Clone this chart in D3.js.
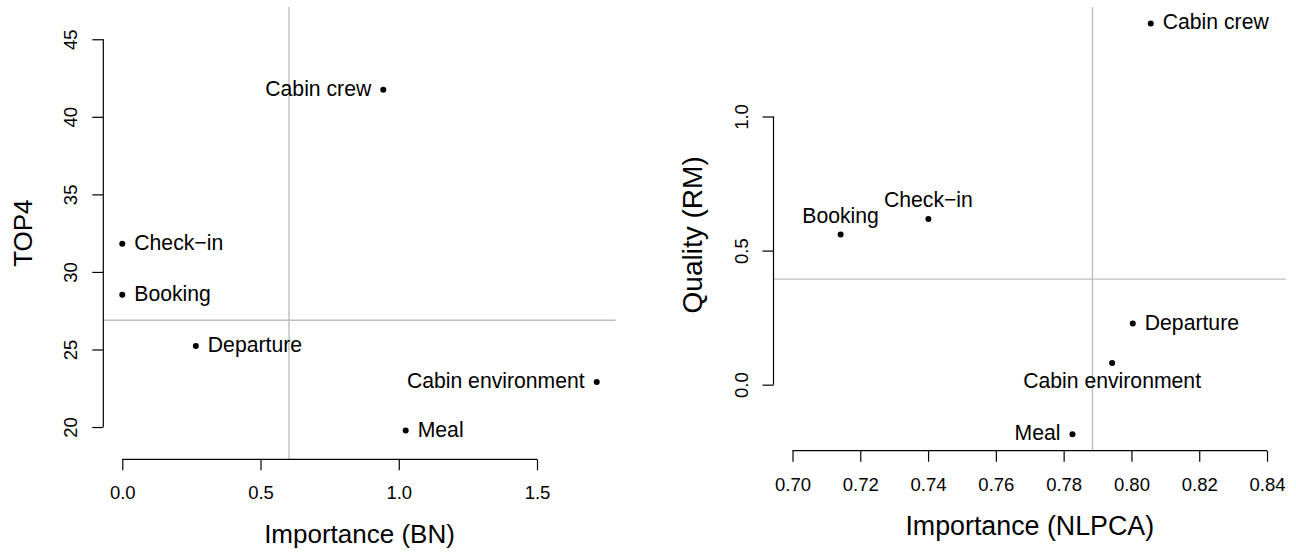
<!DOCTYPE html>
<html>
<head>
<meta charset="utf-8">
<script src="https://cdn.jsdelivr.net/npm/d3@7"></script>
<style>
  html, body { margin: 0; padding: 0; background: #fff; }
  svg { display: block; }
  text { font-family: "Liberation Sans", Arial, Helvetica, sans-serif; fill: #000; }
</style>
</head>
<body>
<svg id="chart" width="1296" height="552"></svg>
<script>
// ---------- DATA ----------
const categories = ["Cabin crew", "Check\u2212in", "Booking", "Departure", "Cabin environment", "Meal"];

// Left panel: Importance (BN) vs TOP4
const leftX = [0.944, 0.0, 0.0, 0.266, 1.716, 1.025];
const leftY = [41.75, 31.81, 28.53, 25.23, 22.9, 19.77];
const leftLabelPos = [2, 4, 4, 4, 2, 4];     // R text() pos: 1 below, 2 left, 3 above, 4 right
const leftRefX = 0.603;
const leftRefY = 26.88;
const leftYLim = [19, 46];
const leftXTicks = [0, 0.5, 1.0, 1.5];
const leftXTickLabels = ["0.0", "0.5", "1.0", "1.5"];
const leftYTicks = [20, 25, 30, 35, 40, 45];
const leftYTickLabels = ["20", "25", "30", "35", "40", "45"];

// Right panel: Importance (NLPCA) vs Quality (RM)
const rightX = [0.8057, 0.7401, 0.7142, 0.8004, 0.7943, 0.7826];
const rightY = [1.347, 0.618, 0.560, 0.228, 0.081, -0.185];
const rightLabelPos = [4, 3, 3, 4, 1, 2];
const rightRefX = 0.7885;
const rightRefY = 0.3935;
const rightXLim = [0.70, 0.84];
const rightXTicks = [0.70, 0.72, 0.74, 0.76, 0.78, 0.80, 0.82, 0.84];
const rightXTickLabels = ["0.70", "0.72", "0.74", "0.76", "0.78", "0.80", "0.82", "0.84"];
const rightYTicks = [0.0, 0.5, 1.0];
const rightYTickLabels = ["0.0", "0.5", "1.0"];

const titles = {
  leftX: "Importance (BN)", leftY: "TOP4",
  rightX: "Importance (NLPCA)", rightY: "Quality (RM)"
};

// ---------- LAYOUT ----------
const svg = d3.select("#chart");
svg.append("rect").attr("width", 1296).attr("height", 552).attr("fill", "#fff");

const TICK_FS = 18.5, LABEL_FS = 21.2;

function ext(lim) {            // R's xaxs="r": extend range by 4%
  const d = (lim[1] - lim[0]) * 0.04;
  return [lim[0] - d, lim[1] + d];
}

function panel(cfg) {
  const x = d3.scaleLinear().domain(ext(cfg.xlim)).range([cfg.left, cfg.right]);
  const y = d3.scaleLinear().domain(ext(cfg.ylim)).range([cfg.bottom, cfg.top]);
  const g = svg.append("g");

  // reference lines
  g.append("line")
    .attr("x1", x(cfg.refX)).attr("x2", x(cfg.refX))
    .attr("y1", cfg.top).attr("y2", cfg.bottom)
    .attr("stroke", "#bebebe").attr("stroke-width", 1.4);
  g.append("line")
    .attr("x1", cfg.left).attr("x2", cfg.right)
    .attr("y1", y(cfg.refY)).attr("y2", y(cfg.refY))
    .attr("stroke", "#bebebe").attr("stroke-width", 1.4);

  // x axis
  const xa = g.append("g").attr("transform", `translate(0,${cfg.bottom})`)
    .call(d3.axisBottom(x).tickValues(cfg.xTicks)
      .tickFormat((d, i) => cfg.xTickLabels[i])
      .tickSize(11).tickSizeOuter(0).tickPadding(16));
  xa.select(".domain").remove();
  xa.append("line")
    .attr("x1", x(cfg.xTicks[0])).attr("x2", x(cfg.xTicks[cfg.xTicks.length - 1]))
    .attr("stroke", "#000").attr("stroke-width", 1.2);
  xa.selectAll(".tick line").attr("stroke", "#000").attr("stroke-width", 1.2);
  xa.selectAll(".tick text").style("font-size", TICK_FS + "px")
    .style("font-family", '"Liberation Sans", Arial, sans-serif').attr("fill", "#000");

  // y axis
  const ya = g.append("g").attr("transform", `translate(${cfg.left},0)`)
    .call(d3.axisLeft(y).tickValues(cfg.yTicks)
      .tickFormat((d, i) => cfg.yTickLabels[i])
      .tickSize(11).tickSizeOuter(0));
  ya.select(".domain").remove();
  ya.append("line")
    .attr("y1", y(cfg.yTicks[0])).attr("y2", y(cfg.yTicks[cfg.yTicks.length - 1]))
    .attr("stroke", "#000").attr("stroke-width", 1.2);
  ya.selectAll(".tick line").attr("stroke", "#000").attr("stroke-width", 1.2);
  ya.selectAll(".tick text")
    .attr("x", 0).attr("y", 0).attr("dy", null)
    .attr("text-anchor", "middle")
    .attr("transform", "translate(-26,0) rotate(-90)")
    .style("font-size", TICK_FS + "px")
    .style("font-family", '"Liberation Sans", Arial, sans-serif').attr("fill", "#000");

  // titles
  g.append("text")
    .attr("x", (cfg.left + cfg.right) / 2).attr("y", cfg.bottom + 84)
    .attr("text-anchor", "middle").style("font-size", cfg.titleFs + "px")
    .text(cfg.xTitle);
  g.append("text")
    .attr("transform", `translate(${cfg.left - 71.5},${(cfg.top + cfg.bottom) / 2 + cfg.yTitleShift}) rotate(-90)`)
    .attr("text-anchor", "middle").style("font-size", cfg.yTitleFs + "px")
    .text(cfg.yTitle);

  // points
  const data = categories.map((c, i) => ({ name: c, x: cfg.xs[i], y: cfg.ys[i], pos: cfg.pos[i] }));
  g.selectAll("circle.pt").data(data).enter().append("circle")
    .attr("class", "pt")
    .attr("cx", d => x(d.x)).attr("cy", d => y(d.y))
    .attr("r", 3).attr("fill", "#000");

  // labels
  g.selectAll("text.lab").data(data).enter().append("text")
    .attr("class", "lab")
    .style("font-size", LABEL_FS + "px")
    .attr("text-anchor", d => d.pos === 2 ? "end" : d.pos === 4 ? "start" : "middle")
    .attr("x", d => x(d.x) + (d.pos === 2 ? -12 : d.pos === 4 ? 12 : 0))
    .attr("y", d => y(d.y) + (d.pos === 3 ? -11.5 : d.pos === 1 ? 24.6 : 6))
    .text(d => d.name);
}

panel({
  left: 103.3, right: 615.7, top: 7, bottom: 459.3,
  xlim: d3.extent(leftX), ylim: leftYLim,
  xs: leftX, ys: leftY, pos: leftLabelPos,
  refX: leftRefX, refY: leftRefY,
  xTicks: leftXTicks, xTickLabels: leftXTickLabels,
  yTicks: leftYTicks, yTickLabels: leftYTickLabels,
  xTitle: titles.leftX, yTitle: titles.leftY,
  titleFs: 26, yTitleFs: 26, yTitleShift: 0
});

panel({
  left: 773.5, right: 1286, top: 7, bottom: 450.7,
  xlim: rightXLim, ylim: d3.extent(rightY),
  xs: rightX, ys: rightY, pos: rightLabelPos,
  refX: rightRefX, refY: rightRefY,
  xTicks: rightXTicks, xTickLabels: rightXTickLabels,
  yTicks: rightYTicks, yTickLabels: rightYTickLabels,
  xTitle: titles.rightX, yTitle: titles.rightY,
  titleFs: 26.8, yTitleFs: 28, yTitleShift: 6
});
</script>
</body>
</html>
